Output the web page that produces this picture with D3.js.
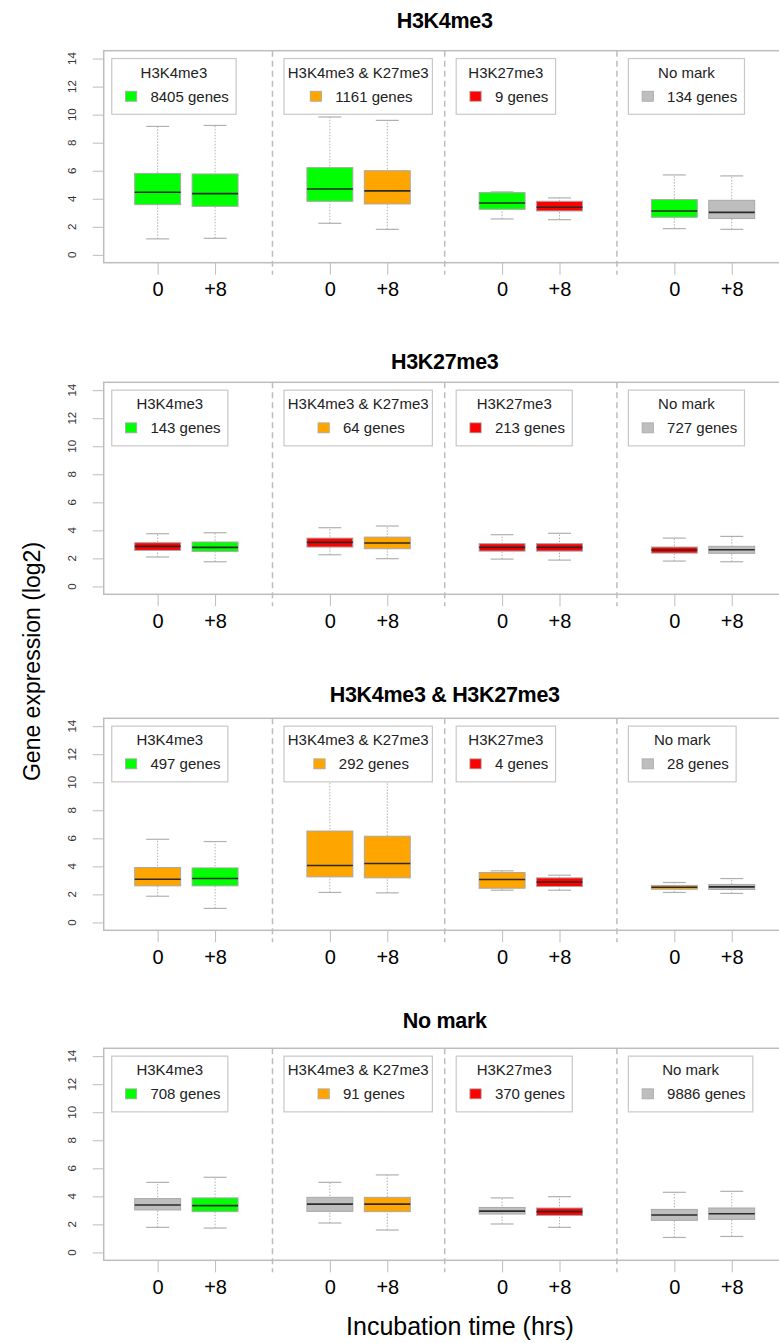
<!DOCTYPE html>
<html><head><meta charset="utf-8">
<script src="https://cdn.jsdelivr.net/npm/d3@7"></script>
<style>
body{margin:0;background:#fff}
text{font-family:"Liberation Sans",Arial,Helvetica,sans-serif}
</style></head>
<body><svg id="chart" width="779" height="1343"></svg>
<script>
// ---------- data ----------
const panelTitles = ["H3K4me3", "H3K27me3", "H3K4me3 & H3K27me3", "No mark"];
const panelColors = ["#00ff00", "#ff0000", "#ffa500", "#bebebe"];
const legendTitles = ["H3K4me3", "H3K4me3 & K27me3", "H3K27me3", "No mark"];
const markColors = ["#00ff00", "#ffa500", "#ff0000", "#bebebe"];
const timeLabels = ["0", "+8"];
const yTickValues = [0, 2, 4, 6, 8, 10, 12, 14];
const geneCounts = [
  [8405, 1161, 9, 134],
  [143, 64, 213, 727],
  [497, 292, 4, 28],
  [708, 91, 370, 9886]
];
// box stats: [whiskerLow, Q1, median, Q3, whiskerHigh]
// order: group1 0h, group1 +8h, group2 0h, group2 +8h, ...
const statsH3K4me3 = [
  [1.14, 3.58, 4.46, 5.81, 9.16], [1.18, 3.46, 4.37, 5.77, 9.23],
  [2.25, 3.82, 4.70, 6.22, 9.83], [1.82, 3.63, 4.56, 6.00, 9.59],
  [2.56, 3.25, 3.70, 4.44, 4.49], [2.51, 3.13, 3.39, 3.82, 4.06],
  [1.87, 2.68, 3.13, 3.94, 5.70], [1.82, 2.59, 3.03, 3.89, 5.63]
];
const statsH3K27me3 = [
  [2.10, 2.57, 2.86, 3.12, 3.76], [1.76, 2.50, 2.79, 3.17, 3.83],
  [2.26, 2.81, 3.14, 3.45, 4.19], [1.98, 2.69, 3.10, 3.52, 4.31],
  [1.95, 2.52, 2.79, 3.05, 3.69], [1.88, 2.52, 2.79, 3.05, 3.79],
  [1.81, 2.38, 2.60, 2.81, 3.45], [1.76, 2.36, 2.62, 2.86, 3.57]
];
const statsBivalent = [
  [1.87, 2.61, 3.08, 3.92, 5.93], [1.00, 2.61, 3.13, 3.89, 5.77],
  [2.14, 3.25, 4.06, 6.52, 11.4], [2.11, 3.18, 4.20, 6.15, 10.6],
  [2.30, 2.44, 3.06, 3.56, 3.68], [2.30, 2.56, 2.89, 3.18, 3.37],
  [2.14, 2.37, 2.51, 2.64, 2.85], [2.07, 2.35, 2.54, 2.71, 3.13]
];
const statsNoMark = [
  [1.79, 3.03, 3.38, 3.84, 5.00], [1.74, 2.91, 3.34, 3.89, 5.36],
  [2.10, 2.93, 3.45, 3.93, 5.00], [1.60, 2.91, 3.45, 3.93, 5.53],
  [2.03, 2.74, 2.95, 3.21, 3.89], [1.79, 2.64, 2.91, 3.17, 3.98],
  [1.07, 2.29, 2.67, 3.07, 4.29], [1.14, 2.36, 2.76, 3.17, 4.36]
];
const panelStats = [statsH3K4me3, statsH3K27me3, statsBivalent, statsNoMark];

// ---------- layout ----------
const svg = d3.select("#chart");
const boxPositions = [1, 2, 4, 5, 7, 8, 10, 11];
const separatorPositions = [3, 6, 9];
const legendAnchors = [0.2, 3.2, 6.2, 9.2];
const plotTops = [50.7, 382.3, 718.3, 1048.3];
const titleBaselines = [27.5, 369.2, 701.5, 1027.5];
const plotH = 212;
const x = d3.scaleLinear().domain([0.06, 11.94]).range([103.7, 785.7]);
const ux = x(1) - x(0);
const boxW = 0.8 * ux, capW = 0.4 * ux;
const frameColor = "#bdbdbd";

panelStats.forEach((stats, p) => {
  const top = plotTops[p];
  const y = d3.scaleLinear().domain([-0.56, 14.56]).range([top + plotH, top]);
  const g = svg.append("g");

  // title
  g.append("text").attr("x", (x.range()[0] + x.range()[1]) / 2).attr("y", titleBaselines[p])
    .attr("text-anchor", "middle").attr("font-weight", "bold").attr("font-size", 21.5)
    .attr("letter-spacing", -0.3).attr("fill", "#000").text(panelTitles[p]);

  // separators
  g.selectAll(".sep").data(separatorPositions).join("line")
    .attr("x1", d => x(d)).attr("x2", d => x(d))
    .attr("y1", top).attr("y2", top + plotH + 12)
    .attr("stroke", frameColor).attr("stroke-width", 1.5).attr("stroke-dasharray", "6,4");

  // y axis
  const yAxis = d3.axisLeft(y).tickValues(yTickValues).tickSize(11).tickFormat(d => d);
  const ya = g.append("g").attr("transform", `translate(${x.range()[0]},0)`).call(yAxis);
  ya.select(".domain").remove();
  ya.selectAll(".tick line").attr("stroke", frameColor);
  ya.selectAll(".tick text").remove();
  g.selectAll(".ylab").data(yTickValues).join("text")
    .attr("transform", d => `translate(${71.7},${y(d)}) rotate(-90)`)
    .attr("text-anchor", "middle").attr("dy", "0.35em")
    .attr("font-size", 11.5).attr("fill", "#333").text(d => d);

  // x axis ticks
  const xAxis = d3.axisBottom(x).tickValues(boxPositions).tickSize(12).tickFormat((d, i) => timeLabels[i % 2]);
  const xa = g.append("g").attr("transform", `translate(0,${top + plotH})`).call(xAxis);
  xa.select(".domain").remove();
  xa.selectAll(".tick line").attr("stroke", frameColor);
  xa.selectAll(".tick text").attr("y", 33.5).attr("dy", null).attr("font-size", 20)
    .attr("fill", "#000").attr("font-family", '"Liberation Sans",Arial,Helvetica,sans-serif');

  // boxes
  const bx = g.selectAll(".box").data(stats).join("g");
  bx.append("line").attr("x1", (d, i) => x(boxPositions[i])).attr("x2", (d, i) => x(boxPositions[i]))
    .attr("y1", d => y(d[0])).attr("y2", d => y(d[4]))
    .attr("stroke", "#b0b0b0").attr("stroke-width", 1).attr("stroke-dasharray", "1.5,1.5");
  [0, 4].forEach(k => {
    bx.append("line").attr("x1", (d, i) => x(boxPositions[i]) - capW / 2).attr("x2", (d, i) => x(boxPositions[i]) + capW / 2)
      .attr("y1", d => y(d[k])).attr("y2", d => y(d[k]))
      .attr("stroke", "#b0b0b0").attr("stroke-width", 1.2);
  });
  bx.append("rect").attr("x", (d, i) => x(boxPositions[i]) - boxW / 2).attr("width", boxW)
    .attr("y", d => y(d[3])).attr("height", d => y(d[1]) - y(d[3]))
    .attr("fill", (d, i) => i % 2 === 0 ? panelColors[p] : markColors[Math.floor(i / 2)])
    .attr("stroke", "#a8a8a8").attr("stroke-width", 1);
  bx.append("line").attr("x1", (d, i) => x(boxPositions[i]) - boxW / 2).attr("x2", (d, i) => x(boxPositions[i]) + boxW / 2)
    .attr("y1", d => y(d[2])).attr("y2", d => y(d[2]))
    .attr("stroke", "#2a2a2a").attr("stroke-width", 1.6);

  // legends
  legendAnchors.forEach((ax, k) => {
    const lx = x(ax), ly = y(14);
    const lg = g.append("g");
    const rect = lg.append("rect");
    const t = lg.append("text").attr("font-size", 15).attr("fill", "#222").text(legendTitles[k]);
    const lab = lg.append("text").attr("font-size", 15).attr("fill", "#222").text(`${geneCounts[p][k]} genes`);
    const tw = t.node().getComputedTextLength();
    const lw = lab.node().getComputedTextLength();
    const contentW = 38.7 + lw + 7.3;
    const w = Math.max(contentW, tw + 7.5);
    const shift = (w - contentW) / 2;
    rect.attr("x", lx).attr("y", ly).attr("width", w).attr("height", 55.7)
      .attr("fill", "#fff").attr("stroke", "#c8c8c8").attr("stroke-width", 1.2);
    t.attr("x", lx + w / 2).attr("y", ly + 19.1).attr("text-anchor", "middle");
    lg.append("rect").attr("x", lx + shift + 13.7).attr("y", ly + 32.7).attr("width", 11.3).attr("height", 10)
      .attr("fill", markColors[k]).attr("stroke", "#a8a8a8").attr("stroke-width", 0.8);
    lab.attr("x", lx + shift + 38.7).attr("y", ly + 43.1);
  });

  // frame
  g.append("rect").attr("x", x.range()[0]).attr("y", top).attr("width", x.range()[1] - x.range()[0])
    .attr("height", plotH).attr("fill", "none").attr("stroke", frameColor).attr("stroke-width", 1.5);
});

// axis titles
svg.append("text").attr("transform", "translate(40,661.5) rotate(-90)")
  .attr("text-anchor", "middle").attr("font-size", 23).attr("fill", "#000").text("Gene expression (log2)");
svg.append("text").attr("x", 460).attr("y", 1335).attr("text-anchor", "middle")
  .attr("font-size", 25).attr("fill", "#000").text("Incubation time (hrs)");
</script>
</body></html>
